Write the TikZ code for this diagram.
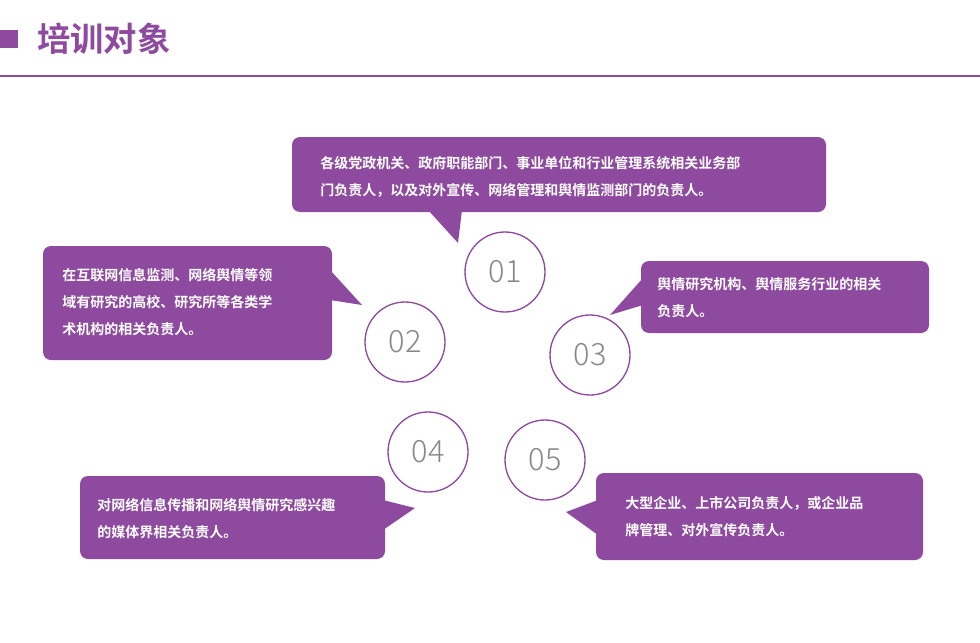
\documentclass[tikz,border=0pt]{standalone}
\usepackage{fontspec}
\setmainfont{Noto Sans CJK SC}
\newfontfamily\cjkb{Noto Sans CJK SC Bold}
\newfontfamily\cjkl{Noto Sans CJK SC Light}
\definecolor{pur}{HTML}{8E4A9E}
\definecolor{numg}{HTML}{888888}
\begin{document}
\begin{tikzpicture}[x=0.75pt,y=-0.75pt,
  bbox/.style={fill=pur,rounded corners=6pt},
  btxt/.style={anchor=west,text=white,font=\cjkb\fontsize{10.5pt}{12pt}\selectfont,inner sep=0pt},
  numc/.style={circle,draw=pur,line width=1pt,minimum size=60pt,font=\cjkl\fontsize{23pt}{23pt}\selectfont,text=numg,fill=white}]
\useasboundingbox (0,0) rectangle (980,642);
\fill[pur] (0,30) rectangle (18,48);
\node[anchor=west,inner sep=0pt,text=pur,font=\cjkb\fontsize{25pt}{25pt}\selectfont] (title) at (37,39) {培训对象};
\draw[pur,line width=1.5pt] (0,76) -- (980,76);
% circles
\node[numc] (c1) at (505,272) {01};
\node[numc] (c2) at (405,342) {02};
\node[numc] (c3) at (590,355) {03};
\node[numc] (c4) at (428,452) {04};
\node[numc] (c5) at (545,460) {05};
% box1
\fill[bbox] (292,137) rectangle (826,212);
\fill[pur] (428,210) -- (462,210) -- (458,243) -- cycle;
\node[btxt] (t1a) at (320,163) {各级党政机关、政府职能部门、事业单位和行业管理系统相关业务部};
\node[btxt] (t1b) at (320,190) {门负责人，以及对外宣传、网络管理和舆情监测部门的负责人。};
% box2
\fill[bbox] (43,246) rectangle (332,360);
\fill[pur] (330,270) -- (330,300) -- (362,305) -- cycle;
\node[btxt] (t2a) at (62,275) {在互联网信息监测、网络舆情等领};
\node[btxt] (t2b) at (62,302) {域有研究的高校、研究所等各类学};
\node[btxt] (t2c) at (62,329) {术机构的相关负责人。};
% box3
\fill[bbox] (641,261) rectangle (929,333);
\fill[pur] (643,278) -- (643,305) -- (610,315) -- cycle;
\node[btxt] (t3a) at (657,284) {舆情研究机构、舆情服务行业的相关};
\node[btxt] (t3b) at (657,311) {负责人。};
% box4
\fill[bbox] (80,476) rectangle (385,559);
\fill[pur] (383,500) -- (383,530) -- (415,508) -- cycle;
\node[btxt] (t4a) at (97,505) {对网络信息传播和网络舆情研究感兴趣};
\node[btxt] (t4b) at (97,532) {的媒体界相关负责人。};
% box5
\fill[bbox] (596,473) rectangle (923,560);
\fill[pur] (598,500) -- (598,535) -- (566,512) -- cycle;
\node[btxt] (t5a) at (625,503) {大型企业、上市公司负责人，或企业品};
\node[btxt] (t5b) at (625,530) {牌管理、对外宣传负责人。};
\end{tikzpicture}
\end{document}
